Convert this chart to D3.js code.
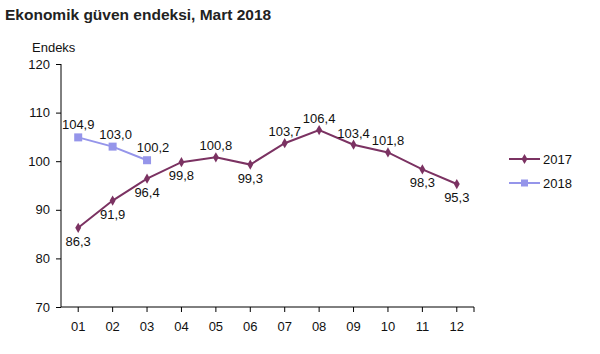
<!DOCTYPE html>
<html><head><meta charset="utf-8">
<script src="https://cdnjs.cloudflare.com/ajax/libs/d3/7.8.5/d3.min.js"></script>
<style>body{margin:0;background:#fff}svg{display:block;font-family:Arial,"Liberation Sans",sans-serif}</style>
</head><body>
<script>
const months = ["01","02","03","04","05","06","07","08","09","10","11","12"];
const values2017 = [86.3,91.9,96.4,99.8,100.8,99.3,103.7,106.4,103.4,101.8,98.3,95.3];
const values2018 = [104.9,103.0,100.2];
const labelPos2017 = ["below","below","below","below","above","below","above","above","above","above","below","below"];
const yTicks = [70,80,90,100,110,120];
const seriesNames = ["2017","2018"];
const colors = ["#7b3262","#9595ea"];

const W=600,H=354;
const svg=d3.select("body").append("svg").attr("width",W).attr("height",H);
const fmt = v => v.toFixed(1).replace(".",",");

svg.append("text").attr("x",5).attr("y",20).attr("font-weight","bold").attr("font-size",15.5).attr("fill","#222").text("Ekonomik güven endeksi, Mart 2018");
svg.append("text").attr("x",32).attr("y",52).attr("font-size",13).attr("fill","#111").text("Endeks");

const x=d3.scaleBand().domain(months).range([61,474]);
const y=d3.scaleLinear().domain([70,120]).range([307,64]);
const cx = m => x(m)+x.bandwidth()/2;

// y axis
const yAxis=svg.append("g").attr("transform","translate(61,0)")
  .call(d3.axisLeft(y).tickValues(yTicks).tickSize(5).tickPadding(6).tickFormat(d3.format("d")));
yAxis.select(".domain").attr("stroke","#000").attr("d","M0,64V307");
yAxis.selectAll("text").attr("font-size",13).attr("fill","#111").attr("font-family","Arial,'Liberation Sans',sans-serif");
// x axis
const xAxis=svg.append("g").attr("transform","translate(0,307)")
  .call(d3.axisBottom(x).tickSize(5).tickPadding(10));
xAxis.select(".domain").attr("stroke","#000").attr("d","M61,0H474");
xAxis.selectAll("text").attr("font-size",13).attr("fill","#111").attr("font-family","Arial,'Liberation Sans',sans-serif");
xAxis.append("line").attr("x1",474).attr("x2",474).attr("y1",0).attr("y2",5).attr("stroke","#000");

const line=d3.line().x((d,i)=>cx(months[i])).y(d=>y(d));
// 2017
svg.append("path").datum(values2017).attr("d",line).attr("fill","none").attr("stroke",colors[0]).attr("stroke-width",2);
svg.selectAll(".m17").data(values2017).enter().append("path")
  .attr("d",d3.symbol(d3.symbolDiamond,30)).attr("fill",colors[0])
  .attr("transform",(d,i)=>`translate(${cx(months[i])},${y(d)})`);
svg.selectAll(".l17").data(values2017).enter().append("text")
  .attr("x",(d,i)=>cx(months[i])).attr("y",(d,i)=>labelPos2017[i]==="above"?y(d)-7:y(d)+18)
  .attr("text-anchor","middle").attr("font-size",13).attr("fill","#111").text(fmt);
// 2018
svg.append("path").datum(values2018).attr("d",line).attr("fill","none").attr("stroke",colors[1]).attr("stroke-width",2);
svg.selectAll(".m18").data(values2018).enter().append("rect")
  .attr("x",(d,i)=>cx(months[i])-4).attr("y",d=>y(d)-4).attr("width",8).attr("height",8).attr("fill",colors[1]);
svg.selectAll(".l18").data(values2018).enter().append("text")
  .attr("x",(d,i)=>cx(months[i])+i*3).attr("y",d=>y(d)-8)
  .attr("text-anchor","middle").attr("font-size",13).attr("fill","#111").text(fmt);

// legend
const lg=svg.append("g");
seriesNames.forEach((s,i)=>{
  const ly=159+i*24;
  lg.append("line").attr("x1",509).attr("x2",540).attr("y1",ly).attr("y2",ly).attr("stroke",colors[i]).attr("stroke-width",2);
  if(i===0) lg.append("path").attr("d",d3.symbol(d3.symbolDiamond,30)).attr("fill",colors[i]).attr("transform",`translate(524.5,${ly})`);
  else lg.append("rect").attr("x",521).attr("y",ly-3.5).attr("width",7).attr("height",7).attr("fill",colors[i]);
  lg.append("text").attr("x",543).attr("y",ly+5).attr("font-size",13).attr("fill","#111").text(s);
});
</script>
</body></html>
